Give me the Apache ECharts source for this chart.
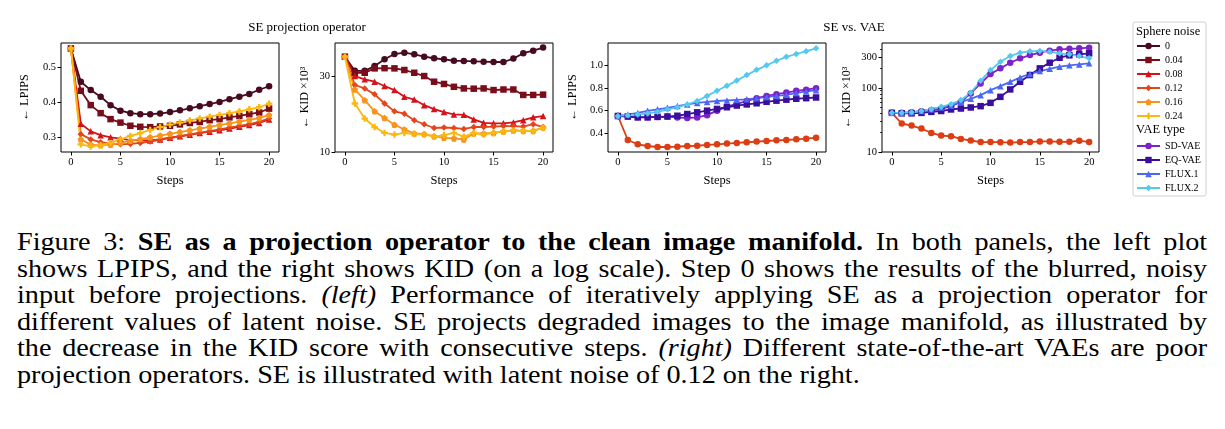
<!DOCTYPE html>
<html>
<head>
<meta charset="utf-8">
<script src="https://cdn.jsdelivr.net/npm/echarts@6/dist/echarts.min.js"></script>
<style>
  body { margin: 0; background: #fff; }
  #chart { position: absolute; left: 0; top: 0; width: 1225px; height: 200px; }
  #caption { position: absolute; left: 17px; top: 229px; width: 1056px;
    transform: scaleX(1.127); transform-origin: 0 0;
    font-family: "Liberation Serif", "Times New Roman", serif; font-size: 25px; line-height: 26.5px; color: #000; }
  #caption div { text-align: justify; text-align-last: justify; }
  #caption div.last { text-align-last: left; }
</style>
</head>
<body>
<div id="chart"></div>
<div id="caption">
  <div>Figure 3: <b>SE as a projection operator to the clean image manifold.</b> In both panels, the left plot</div>
  <div>shows LPIPS, and the right shows KID (on a log scale). Step 0 shows the results of the blurred, noisy</div>
  <div>input before projections. <i>(left)</i> Performance of iteratively applying SE as a projection operator for</div>
  <div>different values of latent noise. SE projects degraded images to the image manifold, as illustrated by</div>
  <div>the decrease in the KID score with consecutive steps. <i>(right)</i> Different state-of-the-art VAEs are poor</div>
  <div class="last">projection operators. SE is illustrated with latent noise of 0.12 on the right.</div>
</div>
<script>
// 数据
var steps = [0, 1, 2, 3, 4, 5, 6, 7, 8, 9, 10, 11, 12, 13, 14, 15, 16, 17, 18, 19, 20];
var noiseNames = ['0', '0.04', '0.08', '0.12', '0.16', '0.24'];
var vaeNames = ['SD-VAE', 'EQ-VAE', 'FLUX.1', 'FLUX.2'];

// 左: LPIPS (sphere noise)
var lpips0   = [0.555, 0.460, 0.436, 0.417, 0.393, 0.377, 0.370, 0.367, 0.367, 0.369, 0.373, 0.378, 0.384, 0.390, 0.396, 0.402, 0.410, 0.417, 0.425, 0.437, 0.447];
var lpips004 = [0.555, 0.434, 0.393, 0.370, 0.353, 0.343, 0.334, 0.331, 0.330, 0.332, 0.334, 0.338, 0.342, 0.345, 0.350, 0.353, 0.358, 0.362, 0.367, 0.372, 0.383];
var lpips008 = [0.555, 0.340, 0.318, 0.307, 0.301, 0.297, 0.293, 0.292, 0.292, 0.295, 0.300, 0.304, 0.308, 0.313, 0.317, 0.321, 0.326, 0.331, 0.336, 0.342, 0.352];
var lpips012 = [0.555, 0.310, 0.295, 0.287, 0.283, 0.281, 0.282, 0.285, 0.289, 0.294, 0.299, 0.304, 0.309, 0.314, 0.319, 0.324, 0.329, 0.334, 0.339, 0.345, 0.355];
var lpips016 = [0.555, 0.295, 0.280, 0.278, 0.280, 0.285, 0.291, 0.296, 0.301, 0.306, 0.311, 0.316, 0.321, 0.326, 0.331, 0.336, 0.341, 0.346, 0.351, 0.356, 0.365];
var lpips024 = [0.555, 0.281, 0.275, 0.278, 0.285, 0.295, 0.305, 0.313, 0.322, 0.330, 0.337, 0.343, 0.349, 0.355, 0.360, 0.365, 0.370, 0.375, 0.381, 0.387, 0.397];

// 左: KID x10^3 (sphere noise)
var kid0   = [40.2, 32.7, 32.7, 35.1, 38.7, 41.8, 42.6, 41.6, 40.2, 39.3, 38.7, 37.9, 37.8, 37.6, 37.4, 37.2, 37.2, 39.1, 42.3, 43.9, 45.9];
var kid004 = [40.2, 31.8, 31.8, 33.9, 34.0, 33.9, 33.1, 31.8, 30.3, 27.9, 27.0, 25.9, 25.3, 25.2, 25.3, 24.7, 24.9, 24.9, 23.0, 23.0, 23.1];
var kid008 = [40.2, 30.3, 28.9, 27.9, 26.2, 24.7, 22.4, 21.5, 19.8, 18.7, 17.9, 17.3, 17.2, 16.1, 15.3, 15.2, 15.2, 15.4, 15.9, 16.6, 16.9];
var kid012 = [40.2, 26.6, 25.3, 23.2, 20.3, 18.1, 17.5, 15.9, 15.0, 14.2, 14.3, 14.2, 14.0, 14.4, 14.4, 14.5, 14.6, 14.6, 14.5, 15.0, 14.4];
var kid016 = [40.2, 24.9, 21.3, 18.1, 16.4, 14.9, 13.9, 13.1, 13.0, 12.6, 12.3, 12.2, 12.0, 13.1, 13.1, 13.2, 13.5, 13.7, 13.6, 13.6, 14.3];
var kid024 = [40.2, 20.3, 16.3, 14.4, 13.2, 12.9, 13.2, 13.0, 12.9, 12.5, 12.8, 13.2, 12.5, 13.2, 12.9, 13.2, 13.5, 13.7, 13.6, 13.6, 14.2];

// 右: LPIPS (SE vs VAE)
var lpipsSE    = [0.553, 0.341, 0.303, 0.288, 0.279, 0.279, 0.282, 0.288, 0.290, 0.297, 0.303, 0.309, 0.315, 0.321, 0.327, 0.332, 0.338, 0.341, 0.347, 0.353, 0.361];
var lpipsSDVAE = [0.553, 0.548, 0.545, 0.543, 0.545, 0.548, 0.540, 0.535, 0.540, 0.560, 0.600, 0.635, 0.660, 0.685, 0.710, 0.730, 0.745, 0.760, 0.775, 0.785, 0.798];
var lpipsEQVAE = [0.553, 0.548, 0.540, 0.540, 0.545, 0.548, 0.555, 0.570, 0.585, 0.600, 0.615, 0.630, 0.645, 0.655, 0.665, 0.678, 0.688, 0.697, 0.705, 0.710, 0.716];
var lpipsFLUX1 = [0.553, 0.565, 0.580, 0.598, 0.612, 0.625, 0.640, 0.655, 0.668, 0.677, 0.685, 0.690, 0.695, 0.700, 0.710, 0.720, 0.730, 0.740, 0.755, 0.770, 0.780];
var lpipsFLUX2 = [0.553, 0.560, 0.565, 0.575, 0.590, 0.610, 0.630, 0.655, 0.685, 0.730, 0.775, 0.820, 0.865, 0.915, 0.960, 1.000, 1.040, 1.075, 1.100, 1.125, 1.150];

// 右: KID x10^3 (SE vs VAE)
var kidSE    = [40.7, 27.8, 25.8, 23.2, 19.8, 18.0, 17.6, 16.0, 15.1, 14.3, 14.3, 14.2, 14.0, 14.3, 14.3, 14.6, 14.6, 14.4, 14.4, 15.0, 14.3];
var kidSDVAE = [40.7, 41.0, 41.5, 43.2, 44.8, 47.0, 51.8, 60.4, 81.8, 117, 164, 201, 246, 288, 324, 352, 379, 398, 405, 412, 422];
var kidEQVAE = [40.7, 40.0, 40.0, 40.7, 42.2, 43.5, 46.0, 47.6, 49.4, 51.8, 58.3, 72.3, 94.4, 124, 158, 201, 246, 294, 321, 333, 345];
var kidFLUX1 = [40.7, 41.0, 41.5, 43.5, 46.5, 49.4, 53.1, 60.4, 67.3, 76.9, 92.0, 106, 124, 145, 164, 182, 198, 213, 224, 231, 241];
var kidFLUX2 = [40.7, 41.0, 41.5, 43.5, 46.5, 50.5, 55.6, 64.3, 83.6, 129, 189, 255, 313, 352, 370, 375, 365, 345, 333, 313, 288];

// 刻度
var stepTicks = [0, 5, 10, 15, 20];
var lpipsLeftTicks = [0.3, 0.4, 0.5];
var kidLeftTicks = [10, 30];
var lpipsRightTicks = [0.4, 0.6, 0.8, 1.0];
var kidRightTicks = [10, 100, 300];
var kidRightMinor = [20, 30, 40, 50, 60, 70, 80, 90, 200, 400];

var noiseColors = ['#480a1e', '#7a0d1a', '#d3121a', '#e5451b', '#f7941d', '#fbb80f'];
var vaeColors = ['#7e22c8', '#3b0f9e', '#4a68f2', '#55c8f0'];
var seColor = '#dc3d12';
var noiseSymbols = ['circle', 'rect', 'triangle', 'diamond',
  'path://M0,-10 L9.51,-3.09 L5.88,8.09 L-5.88,8.09 L-9.51,-3.09 Z',
  'path://M-3.5,-10 H3.5 V-3.5 H10 V3.5 H3.5 V10 H-3.5 V3.5 H-10 V-3.5 H-3.5 Z'];
var vaeSymbols = ['circle', 'rect', 'triangle', 'diamond'];

var font = '"Liberation Serif", "Times New Roman", serif';
var lg10 = function (v) { return Math.log10(v); };

var myChart = echarts.init(document.getElementById('chart'));

var gridPos = [[61, 218], [335, 218], [608, 218], [882, 217]];
var grids = gridPos.map(function (g) {
  return { left: g[0], top: 43, width: g[1], height: 109, show: true,
    borderColor: '#000', borderWidth: 1, backgroundColor: 'transparent', outerBoundsMode: 'none' };
});

var xAxes = grids.map(function (g, i) {
  return {
    type: 'value', gridIndex: i, min: -1, max: 21,
    name: 'Steps', nameLocation: 'middle', nameGap: 22,
    nameTextStyle: { fontFamily: font, fontSize: 12.5, color: '#000' },
    axisLine: { show: false, onZero: false },
    axisTick: { show: true, length: 3.5, customValues: stepTicks, lineStyle: { color: '#000' } },
    axisLabel: { customValues: stepTicks, margin: 5, fontFamily: font, fontSize: 10.5, color: '#000' },
    splitLine: { show: false }
  };
});

function yAx(i, min, max, ticks, fmt, name, gap) {
  return {
    type: 'value', gridIndex: i, min: min, max: max,
    name: name, nameLocation: 'middle', nameGap: gap, nameRotate: 90,
    nameTextStyle: { fontFamily: font, fontSize: 12, color: '#000' },
    axisLine: { show: false, onZero: false },
    axisTick: { show: true, length: 3.5, customValues: ticks, lineStyle: { color: '#000' } },
    axisLabel: { customValues: ticks, margin: 5, fontFamily: font, fontSize: 10.5, color: '#000', formatter: fmt },
    splitLine: { show: false }
  };
}
var fmt1 = function (v) { return v.toFixed(1); };
var fmtLog = function (v) { return String(Math.round(Math.pow(10, v))); };

var yAxes = [
  yAx(0, 0.259, 0.5706, lpipsLeftTicks, fmt1, '← LPIPS', 30),
  yAx(1, 1, lg10(49.1), kidLeftTicks.map(lg10), fmtLog, '← KID ×10³', 24),
  yAx(2, 0.235, 1.197, lpipsRightTicks, fmt1, '← LPIPS', 29),
  yAx(3, 1, lg10(499), kidRightTicks.map(lg10), fmtLog, '← KID ×10³', 29)
];
// 次刻度 (log 轴)
yAxes.push({
  type: 'value', gridIndex: 3, min: 1, max: lg10(499), position: 'left',
  axisLine: { show: false, onZero: false }, axisLabel: { show: false }, splitLine: { show: false },
  axisTick: { show: true, length: 2, customValues: kidRightMinor.map(lg10), lineStyle: { color: '#000', width: 0.8 } }
});

function mk(name, vals, color, symbol, gi, logY) {
  return {
    name: name, type: 'line', xAxisIndex: gi, yAxisIndex: gi,
    data: steps.map(function (s, k) { return [s, logY ? lg10(vals[k]) : vals[k]]; }),
    symbol: symbol, symbolSize: 6.5,
    lineStyle: { color: color, width: 1.8 },
    itemStyle: { color: color },
    emphasis: { disabled: true },
    animation: false
  };
}

var lpipsLeft = [lpips0, lpips004, lpips008, lpips012, lpips016, lpips024];
var kidLeft = [kid0, kid004, kid008, kid012, kid016, kid024];
var lpipsRight = [lpipsSDVAE, lpipsEQVAE, lpipsFLUX1, lpipsFLUX2];
var kidRight = [kidSDVAE, kidEQVAE, kidFLUX1, kidFLUX2];

var series = [];
noiseNames.forEach(function (n, k) {
  series.push(mk(n, lpipsLeft[k], noiseColors[k], noiseSymbols[k], 0, false));
  series.push(mk(n, kidLeft[k], noiseColors[k], noiseSymbols[k], 1, true));
});
series.push(mk('SE', lpipsSE, seColor, 'circle', 2, false));
series.push(mk('SE', kidSE, seColor, 'circle', 3, true));
vaeNames.forEach(function (n, k) {
  series.push(mk(n, lpipsRight[k], vaeColors[k], vaeSymbols[k], 2, false));
  series.push(mk(n, kidRight[k], vaeColors[k], vaeSymbols[k], 3, true));
});

var legendBase = {
  orient: 'vertical', left: 1136, padding: 0, itemWidth: 23, itemHeight: 8, itemGap: 4,
  selectedMode: false,
  textStyle: { fontFamily: font, fontSize: 10, color: '#000', lineHeight: 10 }
};

var option = {
  animation: false,
  grid: grids,
  xAxis: xAxes,
  yAxis: yAxes,
  legend: [
    Object.assign({ top: 41, data: noiseNames }, legendBase),
    Object.assign({ top: 141, data: vaeNames }, legendBase)
  ],
  graphic: [
    { type: 'rect', shape: { x: 1133, y: 22, width: 73, height: 174, r: 2 },
      style: { fill: '#fff', stroke: '#d0d0d0', lineWidth: 1 }, z: -1 },
    { type: 'text', style: { x: 1136, y: 32, text: 'Sphere noise', font: '12.5px ' + font, fill: '#000', textVerticalAlign: 'middle' } },
    { type: 'text', style: { x: 1136, y: 130, text: 'VAE type', font: '12.5px ' + font, fill: '#000', textVerticalAlign: 'middle' } },
    { type: 'text', style: { x: 307, y: 28, text: 'SE projection operator', font: '13px ' + font, fill: '#000', textAlign: 'center', textVerticalAlign: 'middle' } },
    { type: 'text', style: { x: 854, y: 28, text: 'SE vs. VAE', font: '13px ' + font, fill: '#000', textAlign: 'center', textVerticalAlign: 'middle' } }
  ],
  series: series
};

myChart.setOption(option);
</script>
</body>
</html>
